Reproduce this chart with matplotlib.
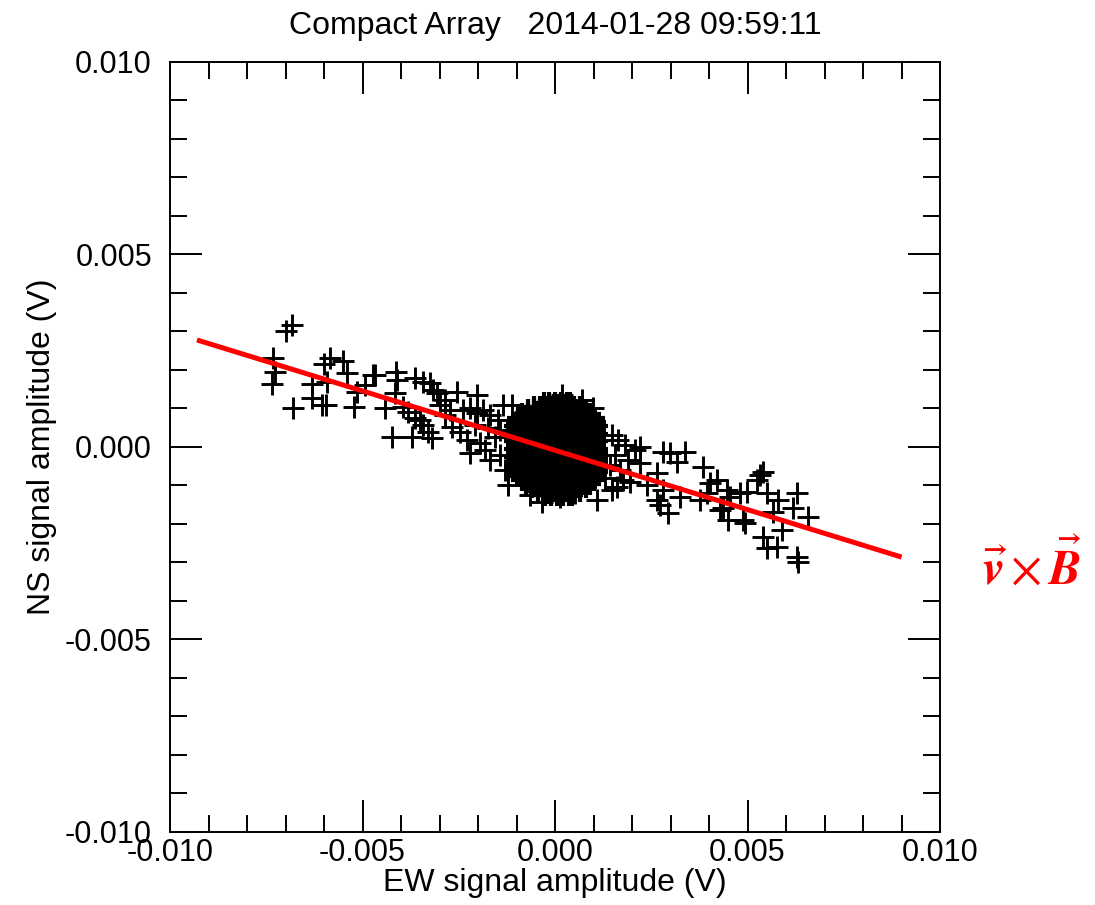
import numpy as np
import matplotlib
matplotlib.use('Agg')
import matplotlib.pyplot as plt
from matplotlib.ticker import MultipleLocator

plt.rcParams['font.family'] = ['Liberation Sans', 'DejaVu Sans']
plt.rcParams['mathtext.fontset'] = 'stix'

# scattered points (mV)
ew_outer = [-6.83, -6.99, -7.32, -7.27, -7.35, -6.81, -5.84, -6.00, -5.51, -5.40,
            -6.31, -5.92, -6.31, -6.05, -5.95, -5.22, -5.14, -4.94, -4.73,
            -4.68, -4.13, -4.10, -3.64, -3.43, -3.25, -3.17, -3.06, -2.55, -2.03,
            -4.16, -4.42, -3.95, -3.82, -3.64, -3.51, -3.43, -4.23, -3.71, -3.30,
            -3.19, -2.68, -2.47, -2.39, -2.21, -2.03, -1.87, -1.69, -2.29, -2.21,
            -1.95, -1.82, -1.69, -1.56, -2.99, -2.86, -2.86, -2.73, -1.48, -1.43,
            -2.08, -1.74,
            2.21, 2.81, 2.99, 3.38, 3.17, 2.21, 2.65, 3.84, 2.39, 2.81, 3.25, 2.65,
            2.73, 2.94, 4.03, 4.21, 3.95, 3.77, 4.29, 4.47, 1.77, 1.61, 1.95,
            5.40, 5.32, 5.25, 4.99, 4.81, 4.55, 5.51, 5.79, 6.29, 6.18, 6.57,
            4.36, 4.49, 4.88, 4.94, 5.66, 5.90, 5.40, 5.51, 5.77, 6.29, 6.31,
            1.48, 1.64, 1.82, 1.56, 1.43, 1.69, 1.90, 2.08, 1.30, 1.48,
            -1.35, -1.12, 0.18, 0.99, -0.34, 0.13, 0.52, -0.65, 1.09, -1.30,
            -1.43, -1.22, 0.70]
ns_outer = [3.17, 3.01, 2.31, 1.95, 1.64, 1.01, 2.31, 2.16, 2.23, 1.92,
            1.64, 1.69, 1.27, 1.09, 1.09, 1.04, 1.43, 1.61, 1.87,
            1.87, 1.95, 1.74, 1.79, 1.69, 1.66, 1.48, 1.40, 1.43, 1.35,
            1.40, 1.01, 1.04, 0.91, 0.75, 0.70, 0.57, 0.26, 0.26, 0.39,
            0.23, 0.52, 0.39, 0.96, 1.01, 0.88, 0.96, 0.83, 0.18, -0.16,
            0.10, -0.08, -0.34, 0.26, 1.09, 0.83, 1.22, 0.96, 0.70, 0.44,
            0.57, 0.49,
            0.00, -0.13, -0.16, -0.13, -0.39, -0.42, -0.68, -0.52, -0.99, -1.12, -1.30, -1.38,
            -1.51, -1.71, -0.94, -0.86, -1.19, -1.38, -1.64, -1.12, -0.86, -1.04, -0.91,
            -0.65, -0.73, -0.86, -1.17, -1.19, -1.30, -1.19, -1.38, -1.19, -1.58, -1.82,
            -1.58, -1.90, -1.90, -1.97, -1.69, -2.16, -2.34, -2.62, -2.60, -2.86, -2.99,
            0.31, 0.18, 0.05, -0.21, -0.47, -0.60, -0.34, -0.08, -0.81, -1.12,
            1.09, 1.09, 1.35, 1.01, -1.43, -1.30, -1.19, -1.25, -1.38, -0.60,
            -0.21, -0.99, 1.22]

# dense core (mV): one row per NS value
core_ns = [1.15, 1.05, 0.95, 0.85, 0.75, 0.65, 0.55, 0.45, 0.35, 0.25, 0.15, 0.05,
           -0.05, -0.15, -0.25, -0.35, -0.45, -0.55, -0.65, -0.75, -0.85, -0.95,
           -1.05, -1.15, -1.25]
core_ew = [
    [-0.30, -0.15, 0.00, 0.15, 0.30, 0.40],
    [-0.55, -0.40, -0.25, -0.10, 0.05, 0.20, 0.35, 0.50, 0.65],
    [-0.70, -0.55, -0.40, -0.25, -0.10, 0.05, 0.20, 0.35, 0.50, 0.65, 0.80],
    [-0.85, -0.70, -0.55, -0.40, -0.25, -0.10, 0.05, 0.20, 0.35, 0.50, 0.65, 0.80, 0.90],
    [-0.95, -0.80, -0.65, -0.50, -0.35, -0.20, -0.05, 0.10, 0.25, 0.40, 0.55, 0.70, 0.85, 1.00],
    [-1.00, -0.85, -0.70, -0.55, -0.40, -0.25, -0.10, 0.05, 0.20, 0.35, 0.50, 0.65, 0.80, 0.95, 1.05],
    [-1.05, -0.90, -0.75, -0.60, -0.45, -0.30, -0.15, 0.00, 0.15, 0.30, 0.45, 0.60, 0.75, 0.90, 1.10],
    [-1.00, -0.85, -0.70, -0.55, -0.40, -0.25, -0.10, 0.05, 0.20, 0.35, 0.50, 0.65, 0.80, 0.95, 1.05],
    [-1.05, -0.90, -0.75, -0.60, -0.45, -0.30, -0.15, 0.00, 0.15, 0.30, 0.45, 0.60, 0.75, 0.90, 1.10],
    [-1.00, -0.85, -0.70, -0.55, -0.40, -0.25, -0.10, 0.05, 0.20, 0.35, 0.50, 0.65, 0.80, 0.95, 1.05],
    [-1.05, -0.90, -0.75, -0.60, -0.45, -0.30, -0.15, 0.00, 0.15, 0.30, 0.45, 0.60, 0.75, 0.90, 1.10],
    [-1.00, -0.85, -0.70, -0.55, -0.40, -0.25, -0.10, 0.05, 0.20, 0.35, 0.50, 0.65, 0.80, 0.95, 1.05],
    [-1.05, -0.90, -0.75, -0.60, -0.45, -0.30, -0.15, 0.00, 0.15, 0.30, 0.45, 0.60, 0.75, 0.90, 1.10],
    [-1.00, -0.85, -0.70, -0.55, -0.40, -0.25, -0.10, 0.05, 0.20, 0.35, 0.50, 0.65, 0.80, 0.95, 1.10],
    [-1.05, -0.90, -0.75, -0.60, -0.45, -0.30, -0.15, 0.00, 0.15, 0.30, 0.45, 0.60, 0.75, 0.90, 1.10],
    [-1.00, -0.85, -0.70, -0.55, -0.40, -0.25, -0.10, 0.05, 0.20, 0.35, 0.50, 0.65, 0.80, 0.95, 1.10],
    [-1.05, -0.90, -0.75, -0.60, -0.45, -0.30, -0.15, 0.00, 0.15, 0.30, 0.45, 0.60, 0.75, 0.90, 1.10],
    [-1.00, -0.85, -0.70, -0.55, -0.40, -0.25, -0.10, 0.05, 0.20, 0.35, 0.50, 0.65, 0.80, 0.95, 1.10],
    [-1.00, -0.85, -0.70, -0.55, -0.40, -0.25, -0.10, 0.05, 0.20, 0.35, 0.50, 0.65, 0.80, 0.95, 1.10],
    [-0.95, -0.80, -0.65, -0.50, -0.35, -0.20, -0.05, 0.10, 0.25, 0.40, 0.55, 0.70, 0.85, 1.05],
    [-0.85, -0.70, -0.55, -0.40, -0.25, -0.10, 0.05, 0.20, 0.35, 0.50, 0.65, 0.80, 1.00],
    [-0.75, -0.60, -0.45, -0.30, -0.15, 0.00, 0.15, 0.30, 0.45, 0.60, 0.75, 0.90],
    [-0.60, -0.45, -0.30, -0.15, 0.00, 0.15, 0.30, 0.45, 0.60, 0.80],
    [-0.45, -0.30, -0.15, 0.00, 0.15, 0.30, 0.45, 0.65],
    [-0.25, -0.10, 0.05, 0.20, 0.35, 0.45],
]

# v x B direction line (V)
line_ew = [-0.0093, 0.0090]
line_ns = [0.00278, -0.00286]

core_x = []
core_y = []
for y, row in zip(core_ns, core_ew):
    core_x += row
    core_y += [y] * len(row)

fig = plt.figure(figsize=(10.95, 9.05), dpi=100)
ax = fig.add_axes([0.1553, 0.0807, 0.7032, 0.8508])

ax.plot(np.array(ew_outer) * 1e-3, np.array(ns_outer) * 1e-3, '+', color='black',
        markersize=16, mew=2.1, linestyle='none')
ax.plot(np.array(core_x) * 1e-3, np.array(core_y) * 1e-3, '+', color='black',
        markersize=16, mew=3.0, linestyle='none')
ax.plot(line_ew, line_ns, color='red', linewidth=3.6, solid_capstyle='butt')

ax.set_xlim(-0.01, 0.01)
ax.set_ylim(-0.01, 0.01)
ax.xaxis.set_major_locator(MultipleLocator(0.005))
ax.yaxis.set_major_locator(MultipleLocator(0.005))
ax.xaxis.set_minor_locator(MultipleLocator(0.001))
ax.yaxis.set_minor_locator(MultipleLocator(0.001))
ax.xaxis.set_major_formatter(lambda v, p: f'{v:.3f}'.replace('-0.000', '0.000'))
ax.yaxis.set_major_formatter(lambda v, p: f'{v:.3f}'.replace('-0.000', '0.000'))

ax.tick_params(which='both', direction='in', top=True, right=True, width=1.4, labelsize=22)
ax.tick_params(which='major', length=23)
ax.tick_params(which='minor', length=12)
ax.tick_params(axis='x', which='major', pad=4)
ax.tick_params(axis='y', which='major', pad=13)
for s in ax.spines.values():
    s.set_linewidth(1.4)

ax.set_xlabel('EW signal amplitude (V)', fontsize=23, labelpad=0)
ax.set_ylabel('NS signal amplitude (V)', fontsize=23, labelpad=6)
ax.set_title('Compact Array   2014-01-28 09:59:11', fontsize=23, pad=20)

fig.text(0.9425, 0.373, r'$\vec{\mathbfit{v}}\times\vec{\mathbfit{B}}$', color='red',
         fontsize=35, ha='center', va='center')

fig.savefig('out.png', dpi=100)
